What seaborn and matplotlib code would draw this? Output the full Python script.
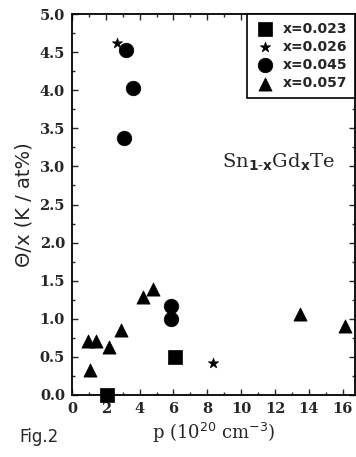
import matplotlib
matplotlib.use("Agg")
import matplotlib.pyplot as plt
import seaborn as sns
import pandas as pd
from matplotlib.ticker import MultipleLocator, FormatStrFormatter

sns.set_theme(style="ticks")
plt.rcParams['font.family'] = ['DejaVu Serif']

# data
sq_p = [2.1, 6.1]
sq_t = [0.0, 0.5]
st_p = [2.65, 8.35]
st_t = [4.62, 0.42]
ci_p = [3.2, 3.6, 3.08, 5.86, 5.86]
ci_t = [4.53, 4.03, 3.37, 1.17, 1.0]
tr_p = [0.95, 1.45, 1.05, 2.2, 2.9, 4.2, 4.8, 13.5, 16.15]
tr_t = [0.71, 0.71, 0.33, 0.63, 0.85, 1.29, 1.39, 1.06, 0.91]
labels = ["x=0.023", "x=0.026", "x=0.045", "x=0.057"]

df = pd.concat([
    pd.DataFrame({"p": sq_p, "t": sq_t, "s": labels[0]}),
    pd.DataFrame({"p": st_p, "t": st_t, "s": labels[1]}),
    pd.DataFrame({"p": ci_p, "t": ci_t, "s": labels[2]}),
    pd.DataFrame({"p": tr_p, "t": tr_t, "s": labels[3]}),
])

fig = plt.figure(figsize=(3.56, 4.57), dpi=100)
ax = fig.add_axes([0.202, 0.136, 0.795, 0.833])

markers = {labels[0]: "s", labels[1]: "*", labels[2]: "o", labels[3]: "^"}
sizes = {labels[0]: 100, labels[1]: 60, labels[2]: 110, labels[3]: 90}
for lab in labels:
    sub = df[df.s == lab]
    sns.scatterplot(data=sub, x="p", y="t", marker=markers[lab], s=sizes[lab],
                    color="black", edgecolor="black", linewidth=0.5, ax=ax, label=lab,
                    clip_on=False)

ax.set_xlim(0, 16.72)
ax.set_ylim(0, 5.0)
ax.xaxis.set_major_locator(MultipleLocator(2))
ax.xaxis.set_minor_locator(MultipleLocator(1))
ax.yaxis.set_major_locator(MultipleLocator(0.5))
ax.yaxis.set_minor_locator(MultipleLocator(0.25))
ax.yaxis.set_major_formatter(FormatStrFormatter("%.1f"))
ax.tick_params(which="both", direction="in", top=True, right=True, width=1.0)
ax.tick_params(which="major", length=4, labelsize=10.5, pad=5)
ax.tick_params(which="minor", length=2)
for t in ax.get_xticklabels() + ax.get_yticklabels():
    t.set_fontweight("bold")
for sp in ax.spines.values():
    sp.set_linewidth(1.3)
    sp.set_color("black")

ax.set_xlabel(r"p (10$^{20}$ cm$^{-3}$)", fontsize=13, labelpad=4)
ax.set_ylabel("Θ/x (K / at%)", fontsize=14, family="DejaVu Sans", labelpad=4)

leg = ax.legend(loc="upper right", frameon=True, fancybox=False, edgecolor="black",
                handletextpad=0.6, borderpad=0.55, labelspacing=0.3,
                handlelength=1.4, borderaxespad=0.0,
                prop={"weight": "bold", "size": 10, "family": "DejaVu Sans"})
leg.get_frame().set_linewidth(1.2)
leg.get_frame().set_alpha(1)

ax.text(0.73, 0.61, r"Sn$_{\mathbf{1\text{-}x}}$Gd$_\mathbf{x}$Te", transform=ax.transAxes,
        ha="center", va="center", fontsize=14)
fig.text(0.11, 0.043, "Fig.2", fontsize=12, family="DejaVu Sans", ha="center", va="center")

fig.savefig("out.png", dpi=100)
